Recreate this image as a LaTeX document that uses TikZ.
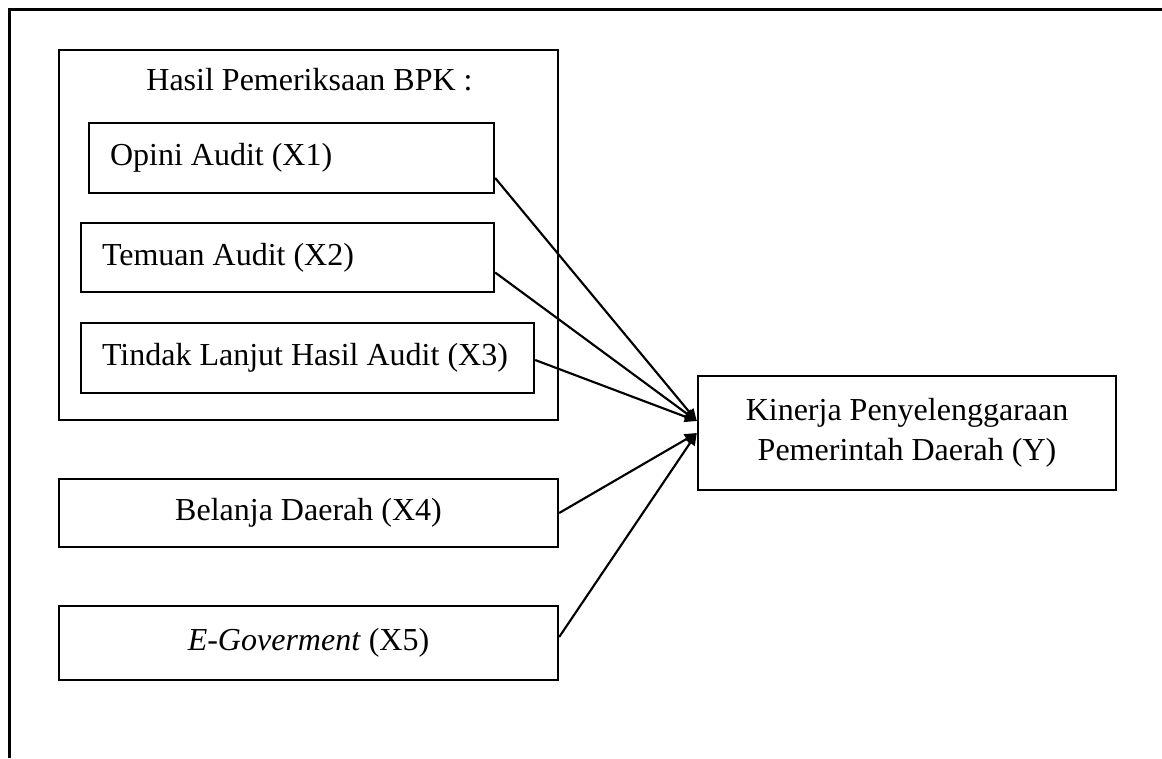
\documentclass[tikz,border=0pt]{standalone}
\usepackage{fontspec}
\setmainfont{Liberation Serif}
\usetikzlibrary{arrows.meta,calc}

\begin{document}
\begin{tikzpicture}[>={Triangle[length=4.5pt,width=4pt]}, x=0.375pt, y=-0.375pt,
		every node/.style={font=\fontsize{12}{15}\selectfont},
		kotak/.style={draw, line width=0.9pt, inner xsep=7.875pt, inner ysep=0pt},
		kiri/.style={kotak, align=flush left},
		tengah/.style={kotak, align=center},
		panah/.style={->, line width=0.8pt}]
	\useasboundingbox (0,0) rectangle (1162,758);
	
	% bingkai luar
	\draw[line width=1.1pt] (9.5,758) -- (9.5,9.5) -- (1162,9.5);
	
	% kelompok hasil pemeriksaan BPK
	\node[kotak, minimum width=187.1pt, minimum height=138.75pt] (grp) at (308.5,235) {};
	\node (judul) at (309.5,80) {Hasil Pemeriksaan BPK :};
	\node[kiri, text width=136.1pt, minimum height=26.25pt] (x1) at (291.5,158) {Opini Audit (X1)};
	\node[kiri, text width=139.1pt, minimum height=25.9pt] (x2) at (287.5,257.5) {Temuan Audit (X2)};
	\node[kiri, text width=154.1pt, minimum height=26.25pt] (x3) at (307.5,358) {Tindak Lanjut Hasil Audit (X3)};
	
	% variabel lain
	\node[tengah, minimum width=187.1pt, minimum height=25.5pt] (x4) at (308.5,513) {Belanja Daerah (X4)};
	\node[tengah, minimum width=187.1pt, minimum height=27.75pt] (x5) at (308.5,643) {\textit{E-Goverment} (X5)};
	
	% variabel terikat
	\node[tengah, minimum width=156.75pt, minimum height=42.75pt] (y) at (907,433) {Kinerja Penyelenggaraan\\Pemerintah Daerah (Y)};
	\coordinate (yatas) at ($(y.west)+(0,-12)$);
	
	% panah pengaruh
	\draw[panah] ($(x1.east)+(0,20)$) -- (yatas);
	\draw[panah] ($(x2.east)+(0,15)$) -- (yatas);
	\draw[panah] ($(x3.east)+(0,2)$) -- (yatas);
	\draw[panah] (x4.east) -- (y.west);
	\draw[panah] ($(x5.east)+(0,-6)$) -- (y.west);
\end{tikzpicture}
\end{document}
